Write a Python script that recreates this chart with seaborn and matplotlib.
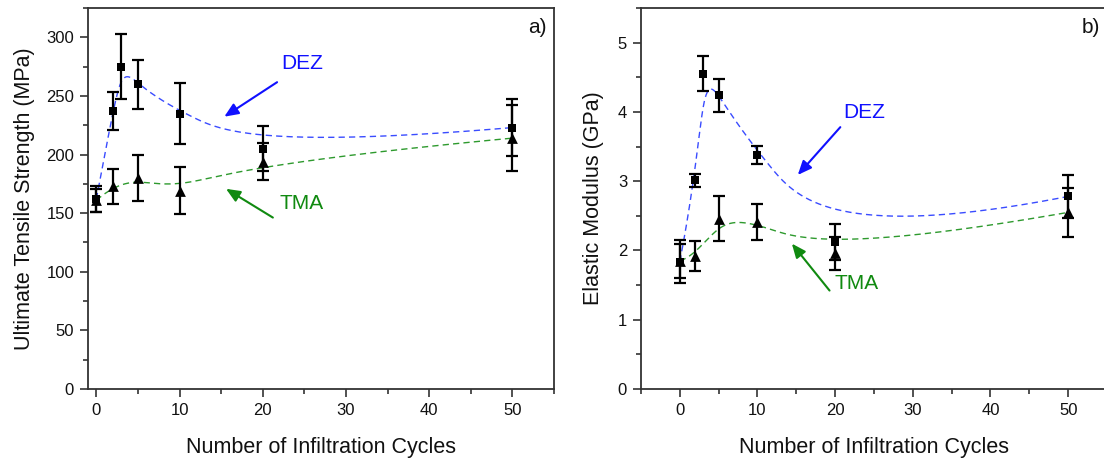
import numpy as np
import pandas as pd
import seaborn as sns
import matplotlib
matplotlib.use("Agg")
import matplotlib.pyplot as plt
from matplotlib.ticker import MultipleLocator

# --- data ---
dez_cycles = [0, 2, 3, 5, 10, 20, 50]
tma_cycles = [0, 2, 5, 10, 20, 50]

# a) ultimate tensile strength (MPa)
dez_uts = [162, 237, 275, 260, 235, 205, 223]
dez_uts_err = [11, 16, 28, 21, 26, 19, 24]
tma_uts = [161, 173, 180, 169, 194, 214]
tma_uts_err = [10, 15, 20, 20, 16, 28]

# b) elastic modulus (GPa)
dez_mod = [1.84, 3.01, 4.55, 4.24, 3.38, 2.12, 2.78]
dez_mod_err = [0.31, 0.10, 0.25, 0.24, 0.13, 0.26, 0.31]
tma_mod = [1.85, 1.92, 2.46, 2.41, 1.96, 2.55]
tma_mod_err = [0.25, 0.22, 0.33, 0.26, 0.24, 0.35]

DEZ_COL = "#3a4cff"
TMA_COL = "#2e9a2e"
ARROW_DEZ = "#1010ff"
ARROW_TMA = "#108a10"


def bspline(xs, ys, n=300):
    # clamped cubic B-spline using the data points as control points
    P = np.column_stack([xs, ys]).astype(float)
    m = len(P)
    k = 3
    inner = np.linspace(0, 1, m - k + 1)[1:-1]
    knots = np.concatenate([[0] * (k + 1), inner, [1] * (k + 1)])
    t = np.linspace(0, 1, n)
    t[-1] = 1 - 1e-9
    N = np.zeros((n, len(knots) - 1))
    for i in range(len(knots) - 1):
        N[:, i] = (t >= knots[i]) & (t < knots[i + 1])
    for d in range(1, k + 1):
        Nn = np.zeros((n, len(knots) - 1 - d))
        for i in range(len(knots) - 1 - d):
            a = knots[i + d] - knots[i]
            b = knots[i + d + 1] - knots[i + 1]
            left = (t - knots[i]) / a * N[:, i] if a > 0 else 0
            right = (knots[i + d + 1] - t) / b * N[:, i + 1] if b > 0 else 0
            Nn[:, i] = left + right
        N = Nn
    C = N @ P
    return C[:, 0], C[:, 1]


sns.set_theme(style="ticks")
plt.rcParams["font.family"] = ["Liberation Sans", "DejaVu Sans"]
plt.rcParams["axes.edgecolor"] = "#333333"
plt.rcParams["axes.linewidth"] = 1.3
plt.rcParams["text.color"] = "#111111"
plt.rcParams["axes.labelcolor"] = "#111111"
plt.rcParams["xtick.labelcolor"] = "#111111"
plt.rcParams["ytick.labelcolor"] = "#111111"

fig = plt.figure(figsize=(11.04, 4.59), dpi=100)
ax1 = fig.add_axes([88 / 1104, 70 / 459, 466 / 1104, 381 / 459])
ax2 = fig.add_axes([641 / 1104, 70 / 459, 466 / 1104, 381 / 459])


def draw_panel(ax, dez_y, dez_e, tma_y, tma_e):
    for xs, ys, col in [(dez_cycles, dez_y, DEZ_COL), (tma_cycles, tma_y, TMA_COL)]:
        cx, cy = bspline(xs, ys)
        sns.lineplot(x=cx, y=cy, ax=ax, color=col, lw=1.0, estimator=None,
                     sort=False, dashes=False, linestyle=(0, (4.5, 3)))
    ax.errorbar(dez_cycles, dez_y, yerr=dez_e, fmt="none", ecolor="black",
                elinewidth=1.6, capsize=4, capthick=1.6, zorder=3)
    ax.errorbar(tma_cycles, tma_y, yerr=tma_e, fmt="none", ecolor="black",
                elinewidth=1.6, capsize=4, capthick=1.6, zorder=3)
    sns.scatterplot(x=dez_cycles, y=dez_y, ax=ax, marker="s", color="black",
                    s=40, edgecolor="black", linewidth=0, zorder=4)
    sns.scatterplot(x=tma_cycles, y=tma_y, ax=ax, marker="^", color="black",
                    s=60, edgecolor="black", linewidth=0, zorder=4)


draw_panel(ax1, dez_uts, dez_uts_err, tma_uts, tma_uts_err)
draw_panel(ax2, dez_mod, dez_mod_err, tma_mod, tma_mod_err)

ax1.set_xlim(-1, 55)
ax1.set_ylim(0, 325)
ax1.yaxis.set_major_locator(MultipleLocator(50))
ax1.yaxis.set_minor_locator(MultipleLocator(25))

ax2.set_xlim(-5, 55)
ax2.set_ylim(0, 5.5)
ax2.yaxis.set_major_locator(MultipleLocator(1))
ax2.yaxis.set_minor_locator(MultipleLocator(0.5))

for ax in (ax1, ax2):
    ax.xaxis.set_major_locator(MultipleLocator(10))
    ax.xaxis.set_minor_locator(MultipleLocator(5))
    ax.tick_params(which="major", direction="out", length=6, width=1.2,
                   color="#333333", labelsize=12, pad=4)
    ax.tick_params(which="minor", direction="out", length=3.5, width=1.2,
                   color="#333333")
    ax.tick_params(top=False, right=False, which="both")
    ax.set_xlabel("Number of Infiltration Cycles", fontsize=15.5, labelpad=14)
    for s in ax.spines.values():
        s.set_visible(True)

ax1.set_ylabel("Ultimate Tensile Strength (MPa)", fontsize=15.5, labelpad=8)
ax2.set_ylabel("Elastic Modulus (GPa)", fontsize=15.5, labelpad=10)

ax1.text(0.985, 0.975, "a)", transform=ax1.transAxes, ha="right", va="top", fontsize=15)
ax2.text(0.985, 0.975, "b)", transform=ax2.transAxes, ha="right", va="top", fontsize=15,
         clip_on=False)

arrow_kw = dict(arrowstyle="-|>,head_length=0.7,head_width=0.3", lw=1.5)
# panel a annotations
ax1.text(24.7, 278, "DEZ", color=ARROW_DEZ, fontsize=15, ha="center", va="center")
ax1.annotate("", xy=(15.1, 231), xytext=(22.0, 263),
             arrowprops=dict(color=ARROW_DEZ, **arrow_kw))
ax1.text(24.7, 158, "TMA", color=ARROW_TMA, fontsize=15, ha="center", va="center")
ax1.annotate("", xy=(15.3, 172), xytext=(21.5, 145),
             arrowprops=dict(color=ARROW_TMA, **arrow_kw))
# panel b annotations
ax2.text(23.7, 3.99, "DEZ", color=ARROW_DEZ, fontsize=15, ha="center", va="center")
ax2.annotate("", xy=(14.95, 3.06), xytext=(20.9, 3.81),
             arrowprops=dict(color=ARROW_DEZ, **arrow_kw))
ax2.text(22.7, 1.53, "TMA", color=ARROW_TMA, fontsize=15, ha="center", va="center")
ax2.annotate("", xy=(14.2, 2.13), xytext=(19.5, 1.39),
             arrowprops=dict(color=ARROW_TMA, **arrow_kw))

fig.savefig("out.png", dpi=100)
